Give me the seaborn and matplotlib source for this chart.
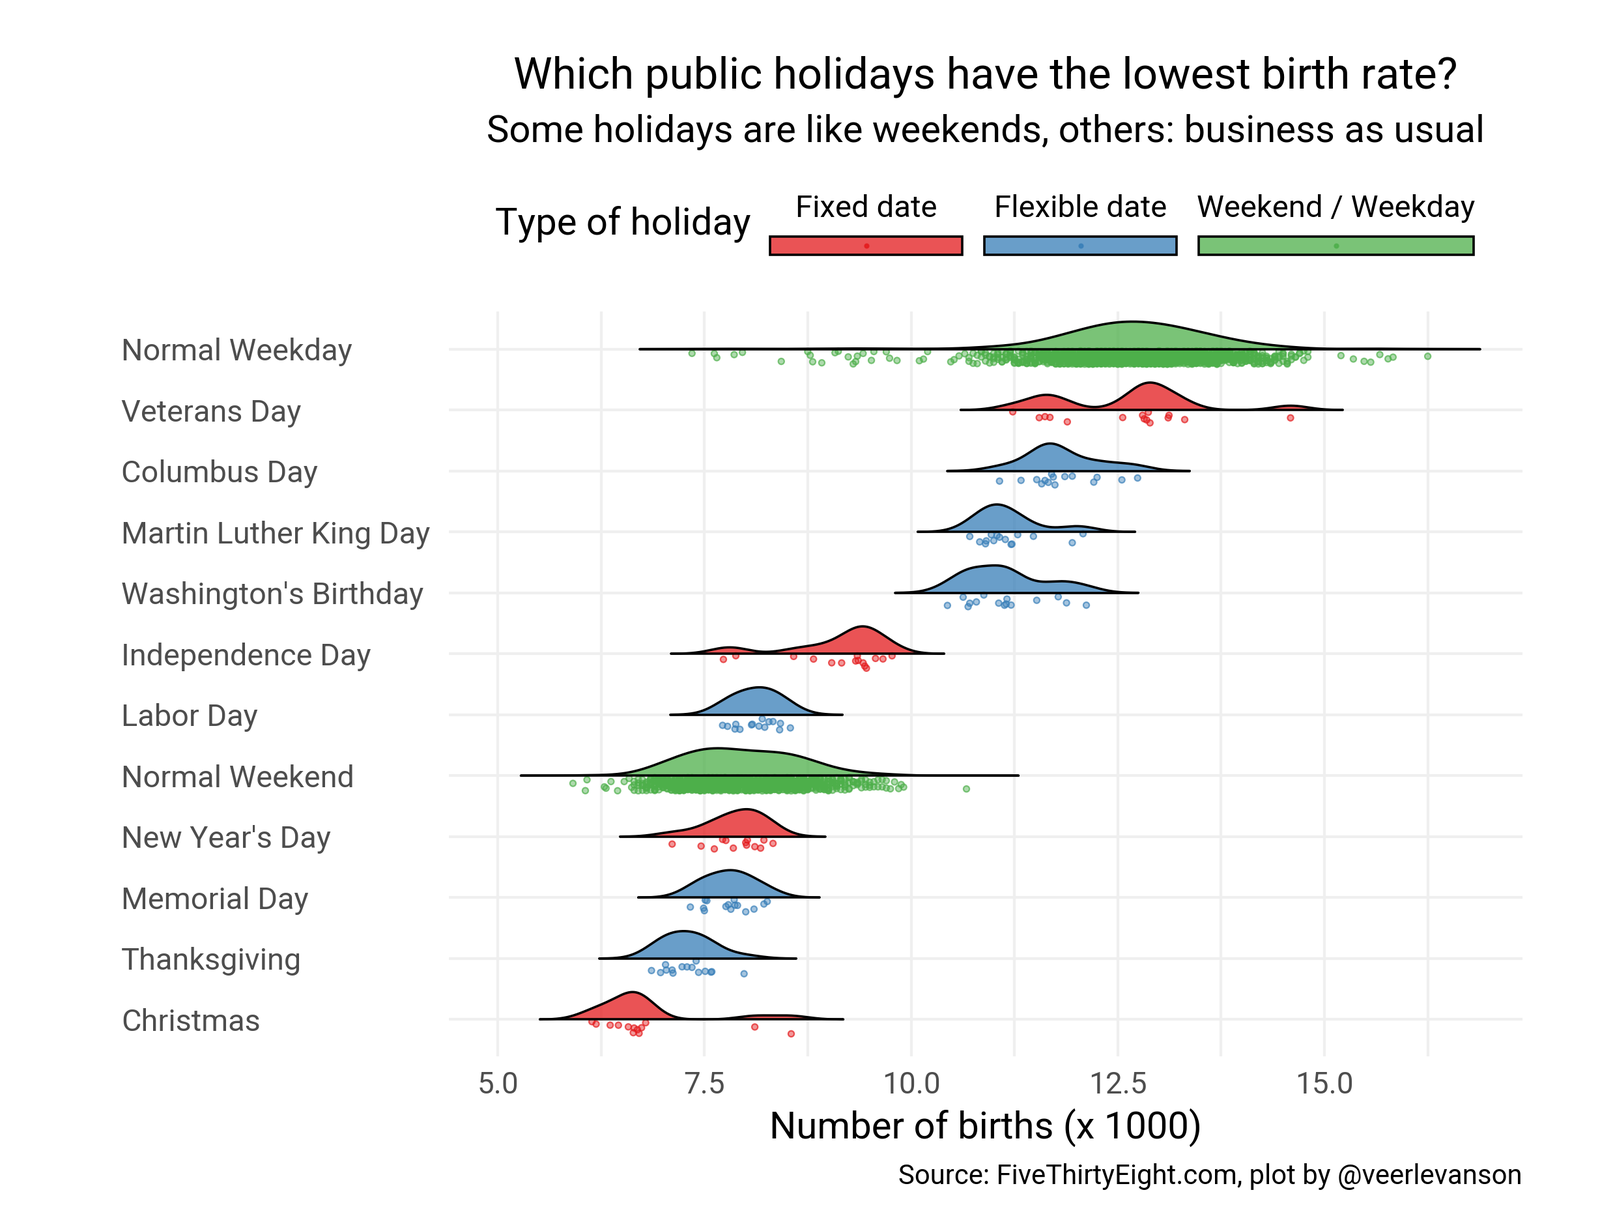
import numpy as np
import pandas as pd
import matplotlib
matplotlib.use("Agg")
import matplotlib.pyplot as plt
import matplotlib.transforms as mtransforms
from matplotlib.patches import Rectangle
from matplotlib.lines import Line2D
import seaborn as sns

# ---------------- data (births x 1000) ----------------
holidays = ["Normal Weekday", "Veterans Day", "Columbus Day", "Martin Luther King Day",
            "Washington's Birthday", "Independence Day", "Labor Day", "Normal Weekend",
            "New Year's Day", "Memorial Day", "Thanksgiving", "Christmas"]
holiday_types = ["Weekend / Weekday", "Fixed date", "Flexible date", "Flexible date",
                 "Flexible date", "Fixed date", "Flexible date", "Weekend / Weekday",
                 "Fixed date", "Flexible date", "Flexible date", "Fixed date"]
type_order = ["Fixed date", "Flexible date", "Weekend / Weekday"]

veterans_day = [11.23, 11.55, 11.62, 11.68, 11.89, 12.56, 12.80, 12.82, 12.85, 12.87,
                12.89, 13.11, 13.12, 13.31, 14.59]
columbus_day = [11.07, 11.33, 11.52, 11.58, 11.62, 11.66, 11.70, 11.72, 11.74, 11.86,
                11.95, 12.21, 12.25, 12.55, 12.74]
mlk_day = [10.71, 10.83, 10.90, 10.91, 10.97, 11.00, 11.04, 11.07, 11.14, 11.21,
           11.22, 11.29, 11.48, 11.95, 12.08]
washington_birthday = [10.44, 10.63, 10.69, 10.71, 10.79, 10.88, 11.06, 11.13, 11.15,
                       11.16, 11.21, 11.52, 11.78, 11.88, 12.12]
independence_day = [7.73, 7.88, 8.58, 8.82, 9.04, 9.16, 9.33, 9.35, 9.36, 9.42, 9.44,
                    9.46, 9.57, 9.66, 9.77]
labor_day = [7.72, 7.78, 7.87, 7.88, 7.93, 8.07, 8.08, 8.16, 8.20, 8.23, 8.28, 8.33,
             8.41, 8.42, 8.54]
new_years_day = [7.11, 7.46, 7.62, 7.72, 7.76, 7.85, 8.00, 8.01, 8.02, 8.11, 8.18,
                 8.22, 8.33]
memorial_day = [7.33, 7.49, 7.50, 7.51, 7.53, 7.76, 7.79, 7.82, 7.86, 7.87, 7.90, 8.00,
                8.10, 8.22, 8.26]
thanksgiving = [6.86, 6.97, 7.03, 7.04, 7.11, 7.12, 7.23, 7.29, 7.35, 7.40, 7.43, 7.51,
                7.58, 7.59, 7.98]
christmas = [6.14, 6.19, 6.36, 6.46, 6.58, 6.64, 6.65, 6.69, 6.71, 6.74, 6.79, 8.11, 8.55]

# Normal days: sparse outlying days listed individually, the dense bulk as
# (value, number of days) pairs estimated from the point cloud.
weekday_sparse = [7.35, 7.62, 7.65, 7.86, 7.96, 8.43, 8.75, 8.78, 8.81, 8.92, 9.08, 9.12,
                  9.24, 9.30, 9.33, 9.35, 9.42, 9.52, 9.55, 9.70, 9.74, 9.83, 10.10, 10.15,
                  10.20, 10.48, 10.52, 10.58, 10.65, 15.20, 15.35, 15.48, 15.56, 15.67,
                  15.77, 15.83, 16.25]
weekday_bin_values = [round(10.70 + 0.05 * k, 2) for k in range(83)]
weekday_bin_counts = [2, 2, 2, 3, 3, 3, 4, 4, 4, 5, 6, 6,
                      6, 7, 8, 9, 10, 12, 13, 14, 16, 18, 19, 21, 23, 24, 26, 28, 29, 31,
                      33, 34, 35, 37, 38, 38, 39, 40, 40,
                      40,
                      40, 40, 39, 39, 38, 38, 37, 36, 35, 34, 32, 31, 30, 29, 27, 26, 24,
                      23, 21, 20, 19, 17, 16, 15, 14, 12, 11, 10, 9, 8, 8, 7, 6, 5, 5, 4,
                      4, 3, 3, 2, 2, 2, 2]
weekend_sparse = [5.91, 6.06, 6.08, 6.29, 6.31, 6.37, 6.45, 6.53, 6.59, 6.62,
                  9.85, 9.88, 9.91, 10.67]
weekend_bin_values = [round(6.65 + 0.05 * k, 2) for k in range(64)]
weekend_bin_counts = [3, 4, 5, 7, 9, 11, 12, 14,
                      16, 18, 19, 21, 23, 24, 26, 27,
                      28, 29, 30, 30, 30, 30, 29, 28,
                      27, 26, 26, 25, 25, 25, 25, 25,
                      25, 25, 25, 25, 24, 24, 24, 23,
                      21, 20, 18, 16, 14, 13, 11, 10,
                      8, 7, 6, 5, 5, 4, 4, 3,
                      3, 3, 2, 2, 2, 2, 1, 1]

normal_weekday = weekday_sparse + list(np.repeat(weekday_bin_values, weekday_bin_counts))
normal_weekend = weekend_sparse + list(np.repeat(weekend_bin_values, weekend_bin_counts))

values_by_holiday = {
    "Normal Weekday": normal_weekday, "Veterans Day": veterans_day,
    "Columbus Day": columbus_day, "Martin Luther King Day": mlk_day,
    "Washington's Birthday": washington_birthday, "Independence Day": independence_day,
    "Labor Day": labor_day, "Normal Weekend": normal_weekend,
    "New Year's Day": new_years_day, "Memorial Day": memorial_day,
    "Thanksgiving": thanksgiving, "Christmas": christmas,
}

rows = []
for h, t in zip(holidays, holiday_types):
    for v in values_by_holiday[h]:
        rows.append((h, t, float(v)))
df = pd.DataFrame(rows, columns=["holiday", "type", "births"])

# ---------------- style ----------------
set1 = {"Fixed date": "#E41A1C", "Flexible date": "#377EB8", "Weekend / Weekday": "#4DAF4A"}
sns.set_theme(style="white")
plt.rcParams["font.family"] = ["Roboto", "DejaVu Sans"]

W, H = 2456, 1889
DPI = 200
fig = plt.figure(figsize=(W / DPI, H / DPI), dpi=DPI)
fig.patch.set_facecolor("white")

ax_l, ax_r, ax_t, ax_b = 689, 2337, 478, 1621
ax = fig.add_axes([ax_l / W, 1 - ax_b / H, (ax_r - ax_l) / W, (ax_b - ax_t) / H])

# jittered points
sns.stripplot(data=df, x="births", y="holiday", order=holidays, hue="type",
              hue_order=type_order, palette=set1, jitter=0.11, size=3.3,
              linewidth=0, legend=False, ax=ax, zorder=2)

row_px = (1564.4 - 535.6) / 11
shift = mtransforms.ScaledTranslation(0, -0.14 * row_px / DPI, fig.dpi_scale_trans)
for coll in list(ax.collections):
    fc = np.array(coll.get_facecolors())
    if len(fc) == 0:
        continue
    ec = fc.copy()
    fc[:, 3] = 0.45
    ec[:, 3] = 0.7
    coll.set_facecolors(fc)
    coll.set_edgecolors(ec)
    coll.set_linewidths(0.8)
    coll.set_offset_transform(ax.transData + shift)

# ridgelines (joint bandwidth, densities scaled per group)
bw = 0.21
ridge_h = 0.45
for i, (h, t) in enumerate(zip(holidays, holiday_types)):
    vals = np.asarray(values_by_holiday[h], dtype=float)
    grid = np.linspace(vals.min() - 3 * bw, vals.max() + 3 * bw, 600)
    dens = np.exp(-0.5 * ((grid[:, None] - vals[None, :]) / bw) ** 2).sum(axis=1)
    dens = dens / dens.max()
    top = i - ridge_h * dens
    ax.fill_between(grid, i, top, color=set1[t], alpha=0.75, linewidth=0, zorder=3)
    ax.plot(grid, top, color="black", lw=1.3, zorder=4, solid_capstyle="round")
    ax.plot([grid[0], grid[-1]], [i, i], color="black", lw=1.3, zorder=4,
            solid_capstyle="round")

# axes
xl = 5 + (ax_l - 764) / 126.9
xr = 5 + (ax_r - 764) / 126.9
ax.set_xlim(xl, xr)
top_lim = -(535.6 - ax_t) / row_px
ax.set_ylim(top_lim + (ax_b - ax_t) / row_px, top_lim)

xt = [5.0, 7.5, 10.0, 12.5, 15.0]
ax.set_xticks(xt)
ax.set_xticklabels([f"{v:.1f}" for v in xt])
ax.set_xticks([6.25, 8.75, 11.25, 13.75, 16.25], minor=True)
ax.set_yticks(range(len(holidays)))
ax.set_yticklabels(holidays)
for lbl in ax.get_yticklabels():
    lbl.set_ha("left")

ax.tick_params(axis="y", which="both", length=0, pad=181, labelsize=16.9,
               labelcolor="#4D4D4D")
ax.tick_params(axis="x", which="both", length=0, pad=8, labelsize=16.5,
               labelcolor="#4D4D4D")
ax.grid(True, which="major", axis="both", color="#EFEFEF", lw=1.5)
ax.grid(True, which="minor", axis="x", color="#EFEFEF", lw=1.5)
ax.set_axisbelow(True)
for s in ax.spines.values():
    s.set_visible(False)
ax.set_ylabel("")
ax.set_xlabel("Number of births (x 1000)", fontsize=20.9, color="black")
ax.xaxis.label.set_va("baseline")
ax.xaxis.set_label_coords(0.5, ((H - 1747) / H - (1 - ax_b / H)) / ((ax_b - ax_t) / H))

# titles
cx = (ax_l + ax_r) / 2 / W
fig.text(cx, 1 - 136 / H, "Which public holidays have the lowest birth rate?",
         ha="center", va="baseline", fontsize=24.2, color="black")
fig.text(cx, 1 - 218 / H, "Some holidays are like weekends, others: business as usual",
         ha="center", va="baseline", fontsize=20.9, color="black")
fig.text(ax_r / W, 1 - 1817 / H, "Source: FiveThirtyEight.com, plot by @veerlevanson",
         ha="right", va="baseline", fontsize=15.1, color="black")

# legend (drawn by hand, ggplot style: labels above wide keys)
fig.text(760 / W, 1 - 360 / H, "Type of holiday", ha="left", va="baseline",
         fontsize=20.9, color="black")
key_x = [(1182, 1477), (1511, 1806), (1840, 2262)]
key_y0, key_y1 = 363, 391
for (x0, x1), t in zip(key_x, type_order):
    fig.patches.append(Rectangle((x0 / W, 1 - key_y1 / H), (x1 - x0) / W,
                                 (key_y1 - key_y0) / H, transform=fig.transFigure,
                                 facecolor=set1[t], alpha=0.75, edgecolor="none",
                                 zorder=1))
    fig.patches.append(Rectangle((x0 / W, 1 - key_y1 / H), (x1 - x0) / W,
                                 (key_y1 - key_y0) / H, transform=fig.transFigure,
                                 facecolor="none", edgecolor="black", lw=1.3, zorder=2))
    fig.add_artist(Line2D([(x0 + x1) / 2 / W], [1 - (key_y0 + key_y1) / 2 / H],
                          marker="o", ms=2.0, color=set1[t], alpha=0.8, lw=0,
                          transform=fig.transFigure))
    fig.text((x0 + x1) / 2 / W, 1 - 333 / H, t, ha="center", va="baseline",
             fontsize=17.0, color="black")

fig.savefig("out.png", dpi=DPI, facecolor="white")
